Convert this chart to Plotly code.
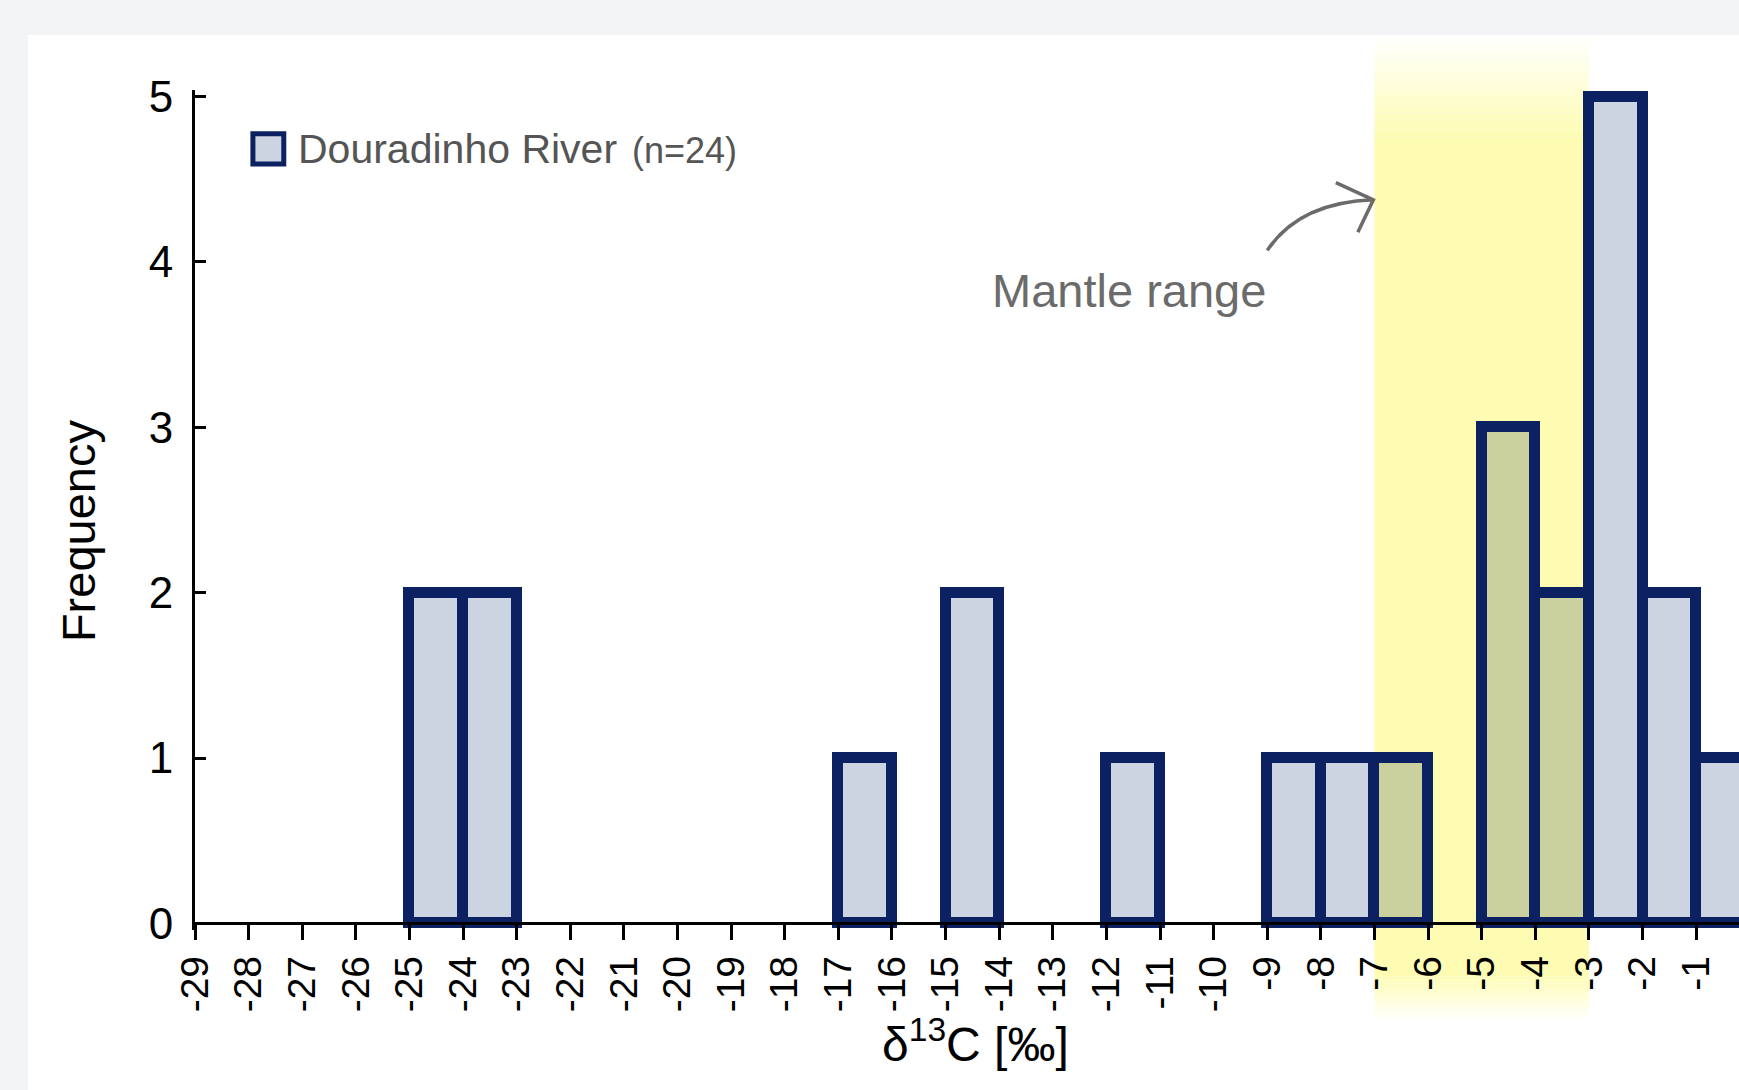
import plotly.graph_objects as go

# ---------------- data ----------------
bin_left = [-25, -24, -17, -15, -12, -9, -8, -7, -5, -4, -3, -2, -1]
counts = [2, 2, 1, 2, 1, 1, 1, 1, 3, 2, 5, 2, 1]
bin_width = 1

x_ticks = list(range(-29, 1))
x_tick_labels = ["-29", "-28", "-27", "-26", "-25", "-24", "-23", "-22", "-21", "-20",
                 "-19", "-18", "-17", "-16", "-15", "-14", "-13", "-12", "-11", "-10",
                 "-9", "-8", "-7", "-6", "-5", "-4", "-3", "-2", "-1", "0"]
y_ticks = [0, 1, 2, 3, 4, 5]

mantle_lo, mantle_hi = -7, -3
series_name = "Douradinho River"
n_label = "(n=24)"
mantle_label = "Mantle range"

# ---------------- styles ----------------
FONT = "Liberation Sans, Arial, sans-serif"
NAVY = "#0b2161"
FILL = "#ccd3e1"
FILL_IN_BAND = "#cbd09f"
YELLOW = "#fdfcb2"
PAGE_BG = "#f3f4f6"
GRAY_TXT = "#6b6b6b"

X_RANGE = [-29, -0.2]
Y_RANGE = [-0.04, 5.04]

fill_colors = [FILL_IN_BAND if (l >= mantle_lo and l + bin_width <= mantle_hi) else FILL
               for l in bin_left]

fig = go.Figure()
fig.add_trace(go.Bar(
    x=bin_left, y=counts, width=bin_width, offset=0,
    marker=dict(color=fill_colors, line=dict(color=NAVY, width=11)),
    showlegend=False, hoverinfo="skip",
))

shapes = []
# white card
shapes.append(dict(type="rect", xref="paper", yref="paper", x0=-0.1082, x1=1.02,
                   y0=-0.25, y1=1.0655, fillcolor="white", line=dict(width=0),
                   layer="below"))

# mantle band with soft fades at top and bottom
band_top, band_solid_top = 1.0655, 0.945
band_solid_bot, band_bot = -0.055, -0.108
shapes.append(dict(type="rect", xref="x", yref="paper", x0=mantle_lo, x1=mantle_hi,
                   y0=band_solid_bot, y1=band_solid_top, fillcolor=YELLOW,
                   line=dict(width=0), layer="below"))
N = 30
for i in range(N):
    a = band_solid_top + (band_top - band_solid_top) * i / N
    b = band_solid_top + (band_top - band_solid_top) * (i + 1) / N
    shapes.append(dict(type="rect", xref="x", yref="paper", x0=mantle_lo, x1=mantle_hi,
                       y0=a, y1=b, fillcolor=YELLOW, opacity=1 - (i + 0.5) / N,
                       line=dict(width=0), layer="below"))
    a2 = band_solid_bot - (band_solid_bot - band_bot) * i / N
    b2 = band_solid_bot - (band_solid_bot - band_bot) * (i + 1) / N
    shapes.append(dict(type="rect", xref="x", yref="paper", x0=mantle_lo, x1=mantle_hi,
                       y0=b2, y1=a2, fillcolor=YELLOW, opacity=1 - (i + 0.5) / N,
                       line=dict(width=0), layer="below"))

# legend swatch
shapes.append(dict(type="rect", xref="paper", yref="paper", x0=0.0375, x1=0.0575,
                   y0=0.912, y1=0.948, fillcolor=FILL, line=dict(color=NAVY, width=5)))

# curved arrow pointing to mantle band
tail = (-9.0, 4.07)
ctrl = (-8.4, 4.36)
tip = (-7.02, 4.376)
arm_up = (-7.72, 4.48)
arm_lo = (-7.31, 4.18)
shapes.append(dict(type="path", xref="x", yref="y",
                   path=f"M {tail[0]},{tail[1]} Q {ctrl[0]},{ctrl[1]} {tip[0]},{tip[1]}",
                   line=dict(color=GRAY_TXT, width=3.5)))
shapes.append(dict(type="path", xref="x", yref="y",
                   path=f"M {arm_up[0]},{arm_up[1]} L {tip[0]},{tip[1]} L {arm_lo[0]},{arm_lo[1]}",
                   line=dict(color=GRAY_TXT, width=3.5)))

annotations = [
    dict(text="Frequency", xref="paper", yref="paper", x=-0.0758, y=0.476,
         textangle=-90, showarrow=False, xanchor="center", yanchor="middle",
         font=dict(family=FONT, size=47, color="black")),
    dict(text="δ<sup>13</sup>C [‰]", xref="paper", yref="paper", x=0.5058, y=-0.132,
         showarrow=False, xanchor="center", yanchor="middle",
         font=dict(family=FONT, size=48, color="black")),
    dict(text=mantle_label, xref="x", yref="y", x=-11.57, y=3.83,
         showarrow=False, xanchor="center", yanchor="middle",
         font=dict(family=FONT, size=47, color=GRAY_TXT)),
    dict(text=series_name, xref="paper", yref="paper", x=0.0655, y=0.9298,
         showarrow=False, xanchor="left", yanchor="middle",
         font=dict(family=FONT, size=41, color="#555555")),
    dict(text=n_label, xref="paper", yref="paper", x=0.2817, y=0.9280,
         showarrow=False, xanchor="left", yanchor="middle",
         font=dict(family=FONT, size=36, color="#555555")),
]

fig.update_layout(
    width=1739, height=1090, autosize=False,
    margin=dict(l=195, r=0, t=90, b=160, pad=0),
    paper_bgcolor=PAGE_BG, plot_bgcolor="rgba(0,0,0,0)",
    bargap=0, showlegend=False,
    shapes=shapes, annotations=annotations,
    xaxis=dict(range=X_RANGE, tickmode="array", tickvals=x_ticks, ticktext=x_tick_labels,
               tickangle=-90, ticks="outside", ticklen=15, tickwidth=3, tickcolor="black",
               showline=True, linewidth=3, linecolor="black", anchor="free",
               position=(0 - Y_RANGE[0]) / (Y_RANGE[1] - Y_RANGE[0]),
               showgrid=False, zeroline=False, ticklabelstandoff=0,
               tickfont=dict(family=FONT, size=39, color="black")),
    yaxis=dict(range=Y_RANGE, tickmode="array", tickvals=y_ticks,
               ticks="inside", ticklen=11, tickwidth=3, tickcolor="black",
               showline=True, linewidth=3, linecolor="black",
               showgrid=False, zeroline=False, ticklabelstandoff=10,
               tickfont=dict(family=FONT, size=44, color="black")),
)

fig.write_html("out.html", config={"displayModeBar": False},
               post_script="document.body.style.margin='0';document.body.style.overflow='hidden';")
